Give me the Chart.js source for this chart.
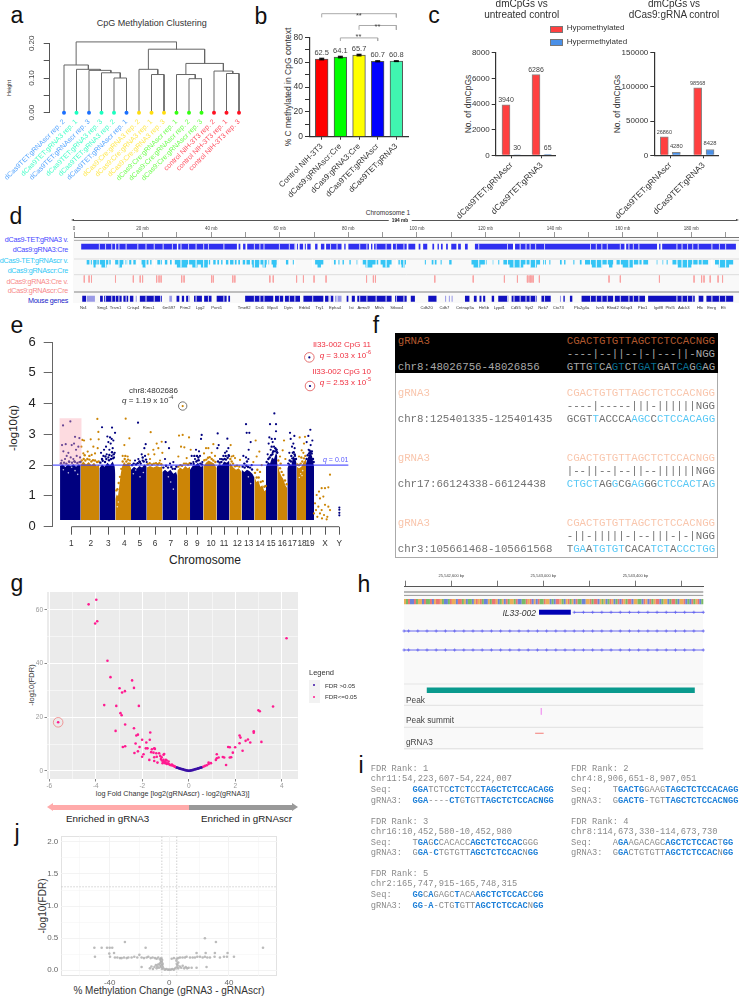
<!DOCTYPE html>
<html>
<head>
<meta charset="utf-8">
<title>CpG methylation figure</title>
<script src="https://cdn.jsdelivr.net/npm/chart.js@4/dist/chart.umd.min.js"></script>
<style>
html, body { margin: 0; padding: 0; background: #fff; }
body { position: relative; width: 739px; height: 997px; overflow: hidden; font-family: "Liberation Sans", Arial, sans-serif; }
canvas, .t, .r { position: absolute; }
.t { white-space: pre; line-height: 1; }
.m { font-family: "Liberation Mono", monospace; }
</style>
</head>
<body>
<script>
// panel a
const leafNames = ['dCas9TET:gRNAscr rep. 2', 'dCas9TET:gRNA3 rep. 1', 'dCas9TET:gRNAscr rep. 3', 'dCas9TET:gRNA3 rep. 3', 'dCas9TET:gRNA3 rep. 2', 'dCas9TET:gRNAscr rep. 1', 'dCas9:Cre:gRNA3 rep. 2', 'dCas9:Cre:gRNA3 rep. 1', 'dCas9:Cre:gRNA3 rep. 3', 'dCas9:Cre:gRNAscr rep. 1', 'dCas9:Cre:gRNAscr rep. 2', 'dCas9:Cre:gRNAscr rep. 3', 'control NIH-3T3 rep. 2', 'control NIH-3T3 rep. 1', 'control NIH-3T3 rep. 3'];
const leafDots = ['#1a6fff', '#1affc0', '#1a6fff', '#1affc0', '#1affc0', '#1a6fff', '#ffdd10', '#ffdd10', '#ffdd10', '#33ff10', '#33ff10', '#33ff10', '#ff1020', '#ff1020', '#ff1020'];
const leafInk = ['#55a5ff', '#45ffc8', '#55a5ff', '#45ffc8', '#45ffc8', '#55a5ff', '#ffe850', '#ffe850', '#ffe850', '#70ff50', '#70ff50', '#70ff50', '#ff5060', '#ff5060', '#ff5060'];
// each merge: left x, right x, height, left child height, right child height
const merges = [
  [4, 5, 0.100, 0, 0], [3, 4.5, 0.115, 0, 0.100], [2, 3.75, 0.122, 0, 0.115], [1, 2.9, 0.125, 0, 0.122], [0, 1.95, 0.1375, 0, 0.125],
  [7, 8, 0.110, 0, 0], [6, 7.5, 0.125, 0, 0.110], [10, 11, 0.098, 0, 0], [9, 10.5, 0.110, 0, 0.098],
  [13, 14, 0.113, 0, 0], [12, 13.5, 0.120, 0, 0.113], [9.75, 12.75, 0.142, 0.110, 0.120], [6.75, 11.25, 0.183, 0.125, 0.142], [0.97, 9, 0.204, 0.1375, 0.183]
];

// panel b
const methNames = ['Control NIH-3T3', 'dCas9:gRNAscr:Cre', 'dCas9:gRNA3:Cre', 'dCas9TET:gRNAscr', 'dCas9TET:gRNA3'];
const methValues = [62.5, 64.1, 65.7, 60.7, 60.8];
const methErrors = [0.6, 0.6, 0.6, 0.4, 0.3];
const methColors = ['#ff0000', '#00ff00', '#ffff00', '#0000ff', '#40f5b0'];
const methBrackets = [[0, 4, 96, 99], [2, 4, 86, 89.5], [1, 3, 77, 79.5]];

// panel c
const dmNames = ['dCas9TET:gRNAscr', 'dCas9TET:gRNA3'];
const hypoUntreated = [3940, 6286];
const hyperUntreated = [30, 65];
const hypoControl = [26860, 98568];
const hyperControl = [4280, 8428];

// panel d, intervals in Mb on chromosome 1
const chrTicks = [0, 10, 20, 30, 40, 50, 60, 70, 80, 90, 100, 110, 120, 130, 140, 150, 160, 170, 180, 190];
const dmrTet3 = [[2.1, 12], [12.3, 30], [30.4, 47.5], [48, 48.5], [49.3, 50], [50.5, 64.5], [65, 65.3], [65.8, 66.8], [67.3, 67.6], [68, 69], [70.3, 71], [72, 73], [73.5, 78], [78.8, 79.2], [80, 86], [86.6, 87], [87.5, 92.5], [93, 97], [97.5, 99.5], [100.5, 101], [101.8, 103], [104.5, 105], [106, 106.4], [107, 107.5], [108.5, 109], [110, 111.5], [112, 112.8], [114, 114.8], [116.9, 128], [128.6, 160.5], [161, 170], [170.6, 171], [171.5, 193]];
const dmrTetScr = [[3.7, 4.5], [4.9, 5.2], [5.6, 6.6], [6.8, 10], [10.3, 10.7], [12, 14.4], [14.9, 15.5], [16.1, 16.7], [17.3, 18], [19.7, 21.7], [22.2, 22.6], [24.3, 25.1], [25.3, 25.6], [26.5, 27.2], [28, 28.5], [29.4, 39.7], [40.6, 41.3], [41.8, 42.3], [42.9, 43.3], [44.3, 45], [45.5, 46.5], [46.9, 47.4], [47.9, 48.4], [49.2, 49.9], [50.3, 51.3], [51.8, 56.2], [56.7, 56.9], [57.6, 59.1], [61, 61.2], [61.8, 62.5], [63, 63.2], [63.8, 64.1], [70.3, 72.7], [75.8, 76.3], [77.1, 77.4], [78.3, 78.7], [80.3, 80.7], [82.4, 82.6], [84.2, 88.7], [89.4, 92.6], [94.6, 95], [95.3, 96.8], [102.3, 102.6], [104.3, 104.8], [105.2, 105.7], [106.9, 107.2], [109.4, 110.1], [115.9, 119.8], [120.1, 120.3], [122.1, 122.25], [123.7, 124], [125.2, 135.9], [136.8, 137.6], [138.6, 138.9], [141.7, 142.2], [142.9, 143.3], [145.6, 145.9], [147.5, 148], [149, 157.2], [158.2, 165.5], [166, 167.4], [169.9, 170.1], [171.6, 171.8], [172.8, 173.1], [174.5, 183], [183.3, 184.9], [186.9, 192.2]];
// stretches of the same track where the marks reach the full row height
const dmrTetScrTall = [[5.7, 6.3], [8, 9.5], [13, 14], [20, 21], [30, 33], [34.5, 36], [37, 39], [52, 54], [55, 56], [58, 59], [71, 72], [85, 87], [90, 92], [95.5, 96.5], [116.5, 118.5], [127, 131], [133, 135], [151, 154], [156, 157], [160, 163], [176, 180], [188, 191]];
const trackSlits = [7.4, 9.2, 11, 13.1, 15.2, 18.6, 21, 23.4, 26, 28.7, 31.2, 33.4, 35.6, 37.8, 39.2, 43.7, 52.6, 54.2, 55.4, 59.9, 62.8, 64.4, 69.6, 74.8, 76.7, 83.3, 85.4, 88.1, 91, 94, 96.2, 118, 126.4, 128.3, 130.1, 131.8, 133, 134.6, 137.2, 150.6, 152.3, 153.9, 155.5, 159.3, 161.8, 163.1, 164.7, 175.8, 177.3, 178.9, 180.4, 182, 186, 188.2, 190];
const dmrCre = [3, 4.4, 5.1, 12.1, 17.3, 19.3, 20, 24.1, 24.8, 25.4, 31.4, 32.1, 40.1, 40.6, 46.3, 46.9, 57.1, 58.1, 64.9, 66.9, 70, 73.5, 85.3, 87.3, 87.9, 105.2, 116.4, 125.5, 129.3, 132.2, 132.7, 133.1, 133.5, 133.9, 135.7, 156, 159.3, 170.7, 180.8, 183, 183.7, 185.5, 187.8, 189.1];
const genesDense = [[2.4, 3.5], [7.6, 8.4], [8.8, 12], [12.2, 13.9], [14.4, 15.8], [16.3, 17.3], [19.2, 25.1], [25.3, 25.6], [29.9, 30.7], [31.4, 32.1], [32.7, 33.6], [35, 37.3], [37.9, 40.1], [41.6, 44.5], [45, 45.5], [49.9, 58.1], [58.6, 61], [61.5, 65.9], [66.9, 72.7], [73.2, 74.2], [74.6, 75.6], [79.5, 80], [81, 81.9], [82.6, 92.6], [93.6, 97], [98.2, 99.4], [103.3, 105.7], [114, 115.3], [116.6, 117.4], [118.2, 118.8], [119.3, 119.9], [121.8, 122.5], [123.7, 126.6], [127.6, 134.9], [136.3, 139], [142.7, 143.1], [144.6, 145.3], [148, 157.2], [157.7, 166.5], [167.4, 181], [182, 183.5], [184.4, 192.2]];
const genesSparse = [[3.7, 6.1], [18, 18.3], [27.8, 28.7], [46.5, 46.6], [76.1, 78], [106.5, 106.7], [108.2, 108.5], [109.3, 109.6], [110.1, 110.4], [141.7, 142]];
const geneNames = ['Nr4', 'Smg1', 'Trsm1', 'Crisp4', 'Rims1', '6m597', 'Prim2', 'Lyg2', 'Pxnt1', 'Tmeff2', 'Dst1', 'Mpo4', 'Dytn', 'Erbb4', 'Try1', 'Epha4', 'Ist', 'Arms9', 'Mfsh', 'Stbox4', 'Cdh20', 'Cdh7', 'Cntnap5a', 'Htr5b', 'Lypd1', 'Cd55', 'Syt2', 'Nek7', 'Ctx73', 'Pla2g4a', 'Ivn5', 'Rfwd2', 'Kifap3', 'Pbx1', 'Igdf8', 'Pfxl5', 'Adck3', 'Hlx', 'Enrg', 'Elt'];
const genePositions = [2.7, 8.3, 12.1, 17.3, 21.8, 27.7, 32.4, 36.8, 41.6, 49.6, 54.2, 57.9, 62.5, 67.2, 71.6, 76.1, 80.9, 84.4, 89, 94.1, 102.8, 108, 114, 119.5, 124, 128.8, 132.7, 136.8, 141.2, 148, 153.4, 157.1, 161.1, 165.8, 170.4, 173.8, 177.8, 182.5, 185.9, 189.3];

// panel e, x is cumulative genome position, y is -log10(q)
const chromNames = ['1', '2', '3', '4', '5', '6', '7', '8', '9', '10', '11', '12', '13', '14', '15', '16', '17', '18', '19', 'X', 'Y'];
const chromTicks = [214, 272, 325, 373, 419, 465, 512, 558, 592, 633, 672, 712, 746, 780, 813, 847, 877, 906, 930, 975, 1018];
const chromBodies = [
  [[180, 1.97], [188, 2.02], [196, 1.94], [204, 2.03], [212, 1.96], [220, 2.04], [228, 1.95], [236, 2.03], [242, 1.98]],
  [[242, 2.02], [250, 2.12], [258, 2.02], [266, 2.1], [274, 2.0], [282, 2.08], [290, 1.96], [298, 2.02]],
  [[298, 1.9], [306, 2.02], [314, 1.95], [322, 2.08], [330, 2.0], [338, 2.12], [344, 1.95], [346, 1.7]],
  [[346, 0.9], [350, 1.05], [354, 1.0], [358, 1.35], [362, 1.7], [366, 1.95], [372, 2.1], [378, 2.02], [385, 2.1], [393, 1.9]],
  [[393, 1.85], [402, 1.95], [410, 1.88], [418, 1.97], [426, 1.92], [434, 2.03], [440, 1.95]],
  [[440, 1.92], [450, 1.97], [460, 1.92], [470, 1.97], [480, 1.93], [487, 1.97]],
  [[487, 1.78], [495, 1.85], [503, 1.78], [511, 1.85], [520, 1.72], [528, 1.78], [532, 1.65]],
  [[532, 1.82], [540, 1.92], [548, 1.87], [556, 1.97], [563, 1.9], [570, 1.95]],
  [[570, 1.85], [578, 1.98], [586, 2.0], [594, 2.08], [602, 1.95], [610, 1.98]],
  [[610, 1.95], [618, 2.08], [626, 2.15], [634, 2.1], [642, 2.05], [650, 1.9]],
  [[650, 1.95], [658, 2.03], [666, 2.0], [672, 2.12], [680, 2.08], [688, 2.15]],
  [[688, 2.1], [694, 2.02], [700, 1.92], [708, 1.85], [716, 1.9], [725, 1.78]],
  [[725, 1.85], [733, 1.78], [741, 1.85], [749, 1.8], [757, 1.72], [763, 1.6]],
  [[763, 1.65], [769, 1.45], [775, 1.5], [781, 1.3], [787, 1.35], [793, 1.15], [798, 1.2]],
  [[798, 1.95], [804, 2.1], [810, 2.05], [816, 2.25], [822, 2.2], [828, 2.4], [832, 2.3]],
  [[832, 2.1], [838, 1.8], [844, 1.65], [850, 1.55], [856, 1.35], [862, 1.25]],
  [[862, 1.9], [868, 2.05], [874, 2.0], [880, 2.3], [886, 2.2], [890, 2.05]],
  [[890, 1.95], [897, 1.9], [904, 1.95], [911, 2.1], [918, 2.2]],
  [[918, 2.05], [924, 2.25], [930, 2.4], [936, 2.3], [942, 1.95]]
];
const navyHits = [[189, 3.29], [211, 3.42], [225, 2.92], [238, 2.88], [186, 2.65], [197, 2.68], [215, 2.65], [222, 2.7], [235, 2.6], [228, 2.5], [190, 2.45], [205, 2.4], [200, 2.3], [195, 2.2], [212, 2.25], [220, 2.2], [230, 2.3], [240, 2.25], [185, 2.15], [208, 2.1], [225, 2.1], [238, 2.1],
  [306, 3.23], [336, 3.22], [345, 3.05], [322, 2.93], [330, 2.9], [335, 2.85], [340, 2.8], [303, 2.4], [312, 2.5], [318, 2.6], [325, 2.75], [332, 2.7], [338, 2.55], [328, 2.5], [344, 2.4], [320, 2.35], [310, 2.3], [335, 2.3], [342, 2.25], [325, 2.25],
  [414, 3.38], [437, 2.68], [433, 2.55], [425, 2.35], [435, 2.3], [415, 2.2], [405, 2.15], [428, 2.15], [440, 2.1], [420, 2.1],
  [497, 2.75], [507, 2.55], [495, 2.2], [520, 2.1], [510, 2.05],
  [605, 2.98], [603, 2.85], [588, 2.5], [597, 2.45], [575, 2.3], [585, 2.2], [600, 2.3], [592, 2.15], [607, 2.1], [580, 2.1],
  [653, 3.03], [682, 2.86], [656, 2.65], [652, 2.55], [685, 2.55], [675, 2.4], [670, 2.3], [680, 2.45], [660, 2.2], [665, 2.2], [687, 2.3],
  [738, 3.33], [740, 3.05], [748, 3.05], [752, 2.75], [746, 2.5], [738, 2.25], [730, 2.3], [745, 2.2], [755, 2.0],
  [823, 3.68], [810, 3.33], [828, 3.33], [808, 2.9], [828, 3.1], [815, 2.85], [825, 2.85], [806, 2.7], [818, 2.75], [822, 2.6], [830, 2.5], [812, 2.5], [825, 2.45], [818, 2.4], [803, 2.35], [832, 2.4],
  [870, 3.05], [883, 2.95], [872, 2.85], [880, 2.7], [876, 2.6], [884, 2.55], [868, 2.4], [878, 2.4], [885, 2.3],
  [931, 3.15], [925, 2.95], [937, 2.8], [920, 2.75], [932, 2.65], [926, 2.5], [936, 2.45], [930, 2.4],
  [1018, 0.62], [1018, 0.55], [1018, 0.45], [1018, 0.37], [928, 5.5], [930, 4.57]];
// the thin fringe of calls sitting right above the solid columns
const navyFringe = [[183, 2.06], [192, 2.08], [199, 2.05], [207, 2.12], [216, 2.08], [223, 2.13], [232, 2.07], [241, 2.1],
  [301, 2.08], [308, 2.14], [315, 2.1], [319, 2.2], [327, 2.16], [333, 2.2], [339, 2.22], [341, 2.35], [336, 2.42], [328, 2.33], [316, 2.28], [306, 2.2],
  [396, 2.0], [401, 2.05], [408, 2.02], [413, 2.06], [422, 2.05], [431, 2.12], [438, 2.18], [428, 2.25], [418, 2.12],
  [490, 1.92], [498, 1.98], [504, 1.92], [514, 1.94], [518, 1.88], [525, 1.88], [529, 1.95],
  [573, 2.05], [581, 2.04], [589, 2.12], [596, 2.16], [601, 2.05], [606, 2.02], [591, 2.3], [583, 2.3], [595, 2.25],
  [654, 2.12], [659, 2.08], [664, 2.1], [669, 2.18], [674, 2.2], [678, 2.18], [683, 2.24], [686, 2.32], [677, 2.3],
  [728, 1.95], [734, 1.92], [739, 1.98], [744, 1.94], [750, 1.92], [756, 1.86], [733, 2.05], [741, 2.12],
  [800, 2.1], [805, 2.2], [809, 2.25], [813, 2.32], [817, 2.35], [820, 2.45], [826, 2.55], [829, 2.5], [831, 2.42], [815, 2.6],
  [865, 2.05], [869, 2.15], [873, 2.12], [877, 2.22], [881, 2.42], [884, 2.35], [888, 2.2], [874, 2.3],
  [920, 2.2], [923, 2.32], [927, 2.38], [929, 2.47], [933, 2.44], [935, 2.38], [939, 2.2], [941, 2.1]];
const orangeHits = [[292, 3.5], [295, 3.08], [247, 2.82], [252, 2.8], [272, 2.84], [296, 2.84], [244, 2.6], [280, 2.6], [293, 2.55], [263, 2.44], [250, 2.38], [285, 2.38], [275, 2.33],
  [377, 3.51], [388, 2.87], [373, 2.65], [383, 2.28], [368, 2.3], [390, 2.15],
  [452, 3.07], [445, 2.35], [470, 2.7], [485, 2.76], [475, 2.55], [460, 2.5], [463, 2.35], [487, 2.4], [450, 2.2], [480, 2.15],
  [537, 2.96], [548, 2.98], [567, 2.9], [543, 2.6], [553, 2.58], [572, 2.5], [535, 2.28], [560, 2.23], [548, 3.92],
  [640, 2.68], [618, 2.55], [625, 2.55], [612, 2.38], [635, 2.4], [645, 2.3],
  [692, 2.65], [695, 2.28], [705, 2.23], [720, 2.17], [700, 2.3],
  [767, 2.8], [778, 2.44], [770, 2.28], [760, 2.1], [785, 2.0],
  [852, 2.8], [848, 2.48], [840, 2.28], [856, 2.2],
  [899, 2.9], [915, 2.92], [912, 2.7], [905, 2.48], [897, 2.28], [910, 2.4],
  [990, 1.69], [965, 1.25], [975, 1.25], [985, 1.28], [957, 1.14], [950, 1.03], [960, 0.92], [970, 0.98], [945, 0.76], [955, 0.65], [965, 0.54], [975, 0.71], [985, 0.65], [948, 0.54], [960, 0.43], [972, 0.38], [982, 0.32], [990, 0.54], [952, 0.32], [966, 0.27], [980, 0.24], [942, 0.43]];
const orangeFringe = [[245, 2.15], [251, 2.2], [256, 2.15], [262, 2.2], [268, 2.18], [274, 2.12], [279, 2.16], [285, 2.15], [291, 2.1], [296, 2.12], [254, 2.32], [268, 2.3],
  [352, 1.22], [356, 1.42], [349, 1.18], [360, 1.62], [364, 1.88], [368, 2.12], [374, 2.2], [379, 2.12], [384, 2.18], [389, 2.05], [376, 2.3],
  [443, 2.03], [449, 2.06], [456, 2.02], [462, 2.05], [468, 2.06], [473, 2.03], [478, 2.06], [484, 2.03],
  [535, 1.95], [541, 2.0], [546, 1.98], [552, 2.05], [558, 2.05], [564, 2.02], [569, 2.06],
  [613, 2.16], [619, 2.18], [624, 2.24], [629, 2.26], [635, 2.2], [640, 2.15], [646, 2.1],
  [691, 2.2], [695, 2.12], [699, 2.05], [705, 1.96], [711, 1.98], [718, 1.95],
  [765, 1.75], [770, 1.6], [776, 1.6], [782, 1.45], [788, 1.48], [793, 1.3], [797, 1.32], [772, 1.85], [780, 1.78],
  [835, 2.15], [840, 1.9], [845, 1.78], [850, 1.68], [855, 1.5], [860, 1.38], [842, 2.05],
  [892, 2.02], [897, 2.0], [902, 2.05], [907, 2.12], [912, 2.22], [916, 2.3], [904, 2.25]];
// pale specks where the columns are not solid
const bodySpecks = [[190, 1.85], [205, 1.75], [225, 1.82], [215, 1.93], [233, 1.7], [400, 1.72], [420, 1.62], [430, 1.76], [407, 1.84], [520, 1.22], [505, 1.62], [512, 1.45], [745, 1.62], [752, 1.4], [902, 1.72], [898, 1.6], [908, 1.82], [906, 1.66], [355, 0.8], [352, 0.65]];
const circledOrange = [[548, 3.92]];
const circledRed = [[928, 5.5], [930, 4.57]];

// panel g
const fdrPassed = [[-4.31, 62], [-3.98, 63.7], [-3.94, 55.7], [-4.03, 54.9], [-3.5, 41], [-3.37, 34.9], [-2.44, 33.7], [-2.98, 30.8], [-2.36, 30.9], [-2.87, 29.2], [-2.75, 29.7], [-3.64, 24.5], [-3.12, 24.2], [-2.15, 24.2], [-2.94, 21.5], [-2.89, 20.7], [-2.74, 17.3], [-3.15, 14.9], [-2.36, 15.9], [-1.66, 14.3], [-2.19, 13.5], [-2.26, 13.2], [-2.29, 10.2], [-2.12, 8.9], [-1.68, 11.6], [-1.83, 10.6], [-2.01, 11.6], [-2.84, 8.9], [-2.74, 9.2], [-2.34, 6.7], [-2.19, 7.3], [-1.95, 6.2], [-2.01, 5.3], [-1.85, 8.4], [-1.78, 8.4], [-1.59, 8.1], [-1.49, 8.4], [-1.46, 8.2], [-1.62, 7], [-1.52, 6.8], [-1.4, 6.6], [-1.28, 6.6], [-1.7, 4.1], [-1.49, 5.1], [-1.38, 5.3], [-1.23, 5.6], [-1.17, 5.1], [-1.09, 6], [-1.06, 6.3], [-1.49, 3.7], [-1.35, 3.1], [-1.16, 3.9], [-1.09, 4.1], [-1.05, 3.5], [-0.99, 4.1], [-0.95, 3.9], [-0.87, 3.5], [-1.13, 2.9], [-1.02, 2.9], [-0.95, 2.6], [-0.8, 2.2], [-0.73, 2.4], [-0.66, 1.9], [-0.6, 1.6],
  [-1.2, 4.4], [-1.1, 3.4], [-1, 3.1], [-0.9, 2.8], [-0.85, 2.5], [-0.75, 2.1], [-0.7, 2], [-0.62, 1.7],
  [4.2, 49.4], [2.99, 22.6], [3.05, 22.2], [3.62, 24], [2.79, 14.8], [2.79, 14.2], [2.18, 13.2], [2.22, 12.4], [2.54, 11.7], [2.44, 11.2], [2.64, 10.6], [3.12, 10.8], [1.76, 8.8], [1.69, 8.9], [1.99, 8.8], [1.89, 6.8], [2.31, 7.5], [2.18, 10.3], [1.2, 6.2], [1.46, 5.2], [1.52, 5], [1.2, 4.7], [1.28, 5], [1.16, 4.1], [1.82, 5.1], [1.76, 5], [1.6, 2.2], [0.95, 2.9], [0.85, 2.6], [0.77, 2.1], [0.7, 1.9], [0.63, 1.6], [0.85, 3.1], [-5.62, 18.1]];
const fdrFailed = [[-0.55, 1.35], [-0.5, 1.2], [-0.45, 1.05], [-0.4, 0.9], [-0.35, 0.8], [-0.3, 0.65], [-0.25, 0.55], [-0.2, 0.4], [-0.15, 0.3], [-0.1, 0.2], [-0.05, 0.1], [0, 0.05], [0.05, 0.1], [0.1, 0.2], [0.15, 0.3], [0.2, 0.4], [0.25, 0.55], [0.3, 0.65], [0.35, 0.8], [0.4, 0.9], [0.45, 1.05], [0.5, 1.2], [0.55, 1.3]];
const fdrCircled = [[-5.62, 18.1]];

// panel h, x is bp from the left edge of the window
const rulerTicks = [6, 206, 406, 606, 806, 1006, 1206];
const rulerNames = { 206: '25,542,600 bp', 606: '25,543,000 bp', 1006: '25,543,400 bp' };
const refBases = 'GATCCTAGGCTAATCGTTGACCATGGCTTAGCAACGTGTACCGATTGCAGCTAGGATCCAATGTCGCTAATGGCACTTGACGTAGCTAACCGGTATTCGAGCATGCATCTGATTCGGAACTGCTAGTTCAGGCATTACGGTCACTAGTCA';
const transcriptMarks = [0, 20, 60, 100, 140, 180, 220, 260, 300, 340, 380, 420, 460, 500, 540, 580, 620, 660, 700, 740, 780, 820, 860, 900, 940, 980, 1020, 1060, 1100, 1140, 1180, 1220, 1260, 1301];
const exonBlock = [[587, 725]];
const peakInterval = [[99, 1264]];
const summitPos = [597];
const guideInterval = [[570, 607]];

// panel j
const methChange = [[-50.3, 0.35], [-49.9, 0.21], [-45.4, 0.35], [-41.8, 0.35], [-40, 0.35], [-38.3, 0.35], [-40.3, 0.26], [-39.8, 0.21], [-37.1, 0.27], [-29.8, 0.44], [-15.9, 0.35], [23.9, 0.5], [31.3, 0.44], [62.9, 0.35], [24.4, 0.27], [30.6, 0.27], [18.3, 0.27], [39.1, 0.27], [43.4, 0.21], [38.7, 0.21], [36.7, 0.21], [34, 0.2], [30.4, 0.21], [-18.6, 0.05], [25, 0.05], [18.3, 0.04], [15, 0.04],
  [-36.5, 0.2], [-34.9, 0.2], [-33.1, 0.19], [-32, 0.19], [-30.4, 0.2], [-28.6, 0.19], [-27.5, 0.2], [-25.3, 0.2], [-23.5, 0.21], [-21.5, 0.2], [-20.1, 0.24], [-18.6, 0.2], [-17, 0.19], [-15.2, 0.2], [-14.1, 0.21], [-12.5, 0.19], [-11.2, 0.2], [-9.6, 0.19], [-8.5, 0.18], [-7.4, 0.2], [-6.3, 0.17], [-5.4, 0.19],
  [1.6, 0.18], [3.1, 0.19], [4.9, 0.18], [6, 0.19], [7.2, 0.2], [8.9, 0.2], [10.5, 0.2], [11.6, 0.21], [13.9, 0.2], [15.7, 0.2], [17.2, 0.2], [18.8, 0.21], [20.6, 0.21], [22.4, 0.2], [23.9, 0.21], [25.5, 0.2], [27.3, 0.2],
  [-13, 0.03], [-12, 0.06], [-11, 0.02], [-10, 0.05], [-9, 0.08], [-8.5, 0.03], [-8, 0.06], [-7.5, 0.09], [-7, 0.04], [-6.5, 0.1], [-6, 0.07], [-5.8, 0.12], [-5.5, 0.15], [-5.2, 0.17], [-5, 0.12], [-4.8, 0.09], [-4.5, 0.06], [-4, 0.03], [-5.5, 0.05], [-5, 0.02], [-4.5, 0.1], [-5.2, 0.14], [-4.8, 0.16], [-5, 0.07], [-3, 0.01], [-2, 0.02], [-1, 0.01], [0, 0.01], [1, 0.01], [2, 0.02], [3, 0.01], [4, 0.03], [5, 0.05], [6, 0.03], [7, 0.06], [8, 0.04], [9, 0.07], [10, 0.03], [11, 0.05], [12, 0.03], [13, 0.04], [5, 0.1], [5.5, 0.08], [6, 0.12], [4.8, 0.15]];

Chart.defaults.font.family = '"Liberation Sans", Arial, sans-serif';
Chart.defaults.animation = false;
Chart.defaults.responsive = false;
Chart.defaults.plugins.legend.display = false;
Chart.defaults.plugins.tooltip.enabled = false;

const pts = a => a.map(([x, y]) => ({ x, y }));
const atTicks = list => s => { s.ticks = list.map(v => ({ value: v })); };
const axisGrid = (len, color, width) => ({ drawOnChartArea: false, tickLength: len, tickColor: color, tickWidth: width || 1, color });
// intervals as flat runs with a gap between them, y is the row of the track
const runs = (list, y) => list.flatMap(([a, b]) => [{ x: a, y }, { x: b, y }, { x: b, y: null }]);
const marks = (list, y0, y1) => list.flatMap(x => [{ x, y: y0 }, { x, y: y1 }, { x, y: null }]);
const band = (data, color, width) => ({ type: 'line', data, borderColor: color, borderWidth: width, pointRadius: 0, borderCapStyle: 'butt', clip: false, tension: 0 });
const dots = (data, color, r) => ({ type: 'scatter', data, backgroundColor: color, borderWidth: 0, pointRadius: r, clip: false });

const valueLabels = {
  id: 'valueLabels',
  afterDatasetsDraw(chart) {
    const ctx = chart.ctx;
    chart.data.datasets.forEach((ds, i) => {
      if (!ds.labelSize) return;
      chart.getDatasetMeta(i).data.forEach((el, j) => {
        ctx.save();
        ctx.font = ds.labelSize + 'px "Liberation Sans", Arial, sans-serif';
        ctx.fillStyle = '#444';
        ctx.textAlign = 'center';
        ctx.fillText(String(ds.data[j].y), el.x, el.y - ds.labelGap);
        ctx.restore();
      });
    });
  }
};

// box and area are page pixels, every axis is forced to fill the gap between them
function plot(box, area, config) {
  const cv = document.createElement('canvas');
  cv.width = box.w; cv.height = box.h;
  cv.style.left = box.x + 'px'; cv.style.top = box.y + 'px';
  document.body.appendChild(cv);
  const o = config.options, sides = {};
  Object.keys(o.scales).forEach(k => {
    const s = o.scales[k];
    if (s.display === false) return;
    const pos = s.position || (k[0] === 'x' ? 'bottom' : 'left');
    sides[pos] = true;
    s.afterFit = sc => {
      if (pos === 'left') sc.width = area.l - box.x;
      if (pos === 'top') sc.height = area.t - box.y;
      if (pos === 'bottom') sc.height = box.y + box.h - area.b;
      sc.paddingLeft = sc.paddingRight = sc.paddingTop = sc.paddingBottom = 0;
    };
  });
  o.layout = { padding: {
    left: sides.left ? 0 : area.l - box.x,
    top: sides.top ? 0 : area.t - box.y,
    right: box.x + box.w - area.r,
    bottom: sides.bottom ? 0 : box.y + box.h - area.b
  } };
  return new Chart(cv, config);
}

function text(x, y, str, css, anchor) {
  const d = document.createElement('div');
  d.className = 't';
  const tx = anchor === 'r' ? '-100%' : anchor === 'c' ? '-50%' : '0';
  d.style.cssText = `left:${x}px;top:${y}px;transform:translate(${tx},-50%);${css || ''}`;
  d.innerHTML = str;
  document.body.appendChild(d);
  return d;
}
function vtext(x, y, str, css) {
  const d = text(x, y, str, css, 'c');
  d.style.transform = 'translate(-50%,-50%) rotate(-90deg)';
}
function rect(x, y, w, h, css) {
  const d = document.createElement('div');
  d.className = 'r';
  d.style.cssText = `left:${x}px;top:${y}px;width:${w}px;height:${h}px;${css}`;
  document.body.appendChild(d);
}
function head(x, y, dir, len, half, color) {
  const side = dir > 0 ? 'left' : 'right';
  rect(dir > 0 ? x : x - len, y - half, 0, 0, `border-top:${half}px solid transparent;border-bottom:${half}px solid transparent;border-${side}:${len}px solid ${color};`);
}
const panelTag = (x, y, s) => text(x, y, s, 'font-size:23px;color:#111;', 'c');

[['a', 17, 14.5], ['b', 261, 15.5], ['c', 434, 14.5], ['d', 16, 216], ['e', 17, 325], ['f', 376, 325], ['g', 17, 583], ['h', 364, 584], ['i', 361, 765], ['j', 17, 833]].forEach(p => panelTag(p[1], p[2], p[0]));

/* ---------- a ---------- */
text(151.7, 23, 'CpG Methylation Clustering', 'font-size:9px;color:#333;', 'c');
vtext(10, 88, 'Height', 'font-size:5.5px;color:#333;');
plot({ x: 0, y: 20, w: 258, h: 185 }, { l: 49.3, t: 43.3, r: 250, b: 112.7 }, {
  type: 'scatter',
  data: { datasets: [
    dots(leafNames.map((n, i) => ({ x: i, y: 0 })), leafDots, 2),
    band(merges.flatMap(([a, b, h, ha, hb]) => [{ x: a, y: ha }, { x: a, y: h }, { x: b, y: h }, { x: b, y: hb }, { x: b, y: null }]), '#666', 1)
  ] },
  options: { scales: {
    x: { type: 'linear', min: -1.176, max: 14.88, afterBuildTicks: atTicks(leafNames.map((n, i) => i)), border: { display: false },
      grid: { drawOnChartArea: false, drawTicks: false },
      ticks: { autoSkip: false, minRotation: 45, maxRotation: 45, padding: 5, font: { size: 7 }, color: c => leafInk[c.index], callback: v => leafNames[v] } },
    y: { min: 0, max: 0.2, afterBuildTicks: atTicks([0, 0.05, 0.1, 0.15, 0.2]), border: { color: '#555' }, grid: axisGrid(5.6, '#555'),
      ticks: { autoSkip: false, minRotation: 90, maxRotation: 90, crossAlign: 'center', padding: 4, font: { size: 8 }, color: '#444', callback: v => (Math.round(v * 100) % 10 === 0 ? v.toFixed(2) : '') } }
  } }
});

/* ---------- b ---------- */
const inkAxis = { color: '#333', width: 1.2 };
vtext(288, 87, '% C methylated in CpG context', 'font-size:8.5px;color:#333;');
plot({ x: 262, y: 0, w: 160, h: 206 }, { l: 309.3, t: 37.3, r: 408.3, b: 136.7 }, {
  type: 'bar',
  data: { datasets: [
    { type: 'line', data: methValues.flatMap((v, i) => [{ x: i, y: v - methErrors[i] }, { x: i, y: v + methErrors[i] }, { x: i, y: null }]), borderColor: '#000', borderWidth: 1, pointStyle: 'line', pointRadius: 2.5, pointBorderColor: '#000', pointBorderWidth: 1.2, clip: false },
    { type: 'line', data: methBrackets.flatMap(([a, b, low, high]) => [{ x: a, y: low }, { x: a, y: high }, { x: b, y: high }, { x: b, y: low }, { x: b, y: null }]), borderColor: '#aaa', borderWidth: 1, pointRadius: 0, clip: false },
    { data: methValues.map((v, i) => ({ x: i, y: v })), backgroundColor: methColors, borderColor: '#555', borderWidth: 1, barThickness: 12.7, grouped: false, labelSize: 7.5, labelGap: 4.5 }
  ] },
  plugins: [valueLabels],
  options: { scales: {
    x: { type: 'linear', offset: false, min: -0.665, max: 4.64, afterBuildTicks: atTicks(methNames.map((n, i) => i)), border: inkAxis,
      grid: { offset: false, drawOnChartArea: false, tickLength: 3, tickColor: '#333' },
      ticks: { autoSkip: false, minRotation: 45, maxRotation: 45, padding: 2, font: { size: 8 }, color: '#333', callback: v => methNames[v] } },
    y: { min: 0, max: 80, afterBuildTicks: atTicks([0, 10, 20, 30, 40, 50, 60, 70, 80]), border: inkAxis, grid: axisGrid(4.3, '#333', 1),
      ticks: { autoSkip: false, padding: 2, font: { size: 8.5 }, color: '#333', callback: v => (v % 20 === 0 ? v : '') } }
  } }
});
text(358.8, 16, '**', 'font-size:7.5px;color:#444;', 'c');
text(377.5, 27, '**', 'font-size:7.5px;color:#444;', 'c');
text(358.5, 37, '**', 'font-size:7.5px;color:#444;', 'c');

/* ---------- c ---------- */
function dmChart(box, area, xr, hypoX, hyperX, hypo, hyper, yMax, yTicks, sizes, tickX) {
  plot(box, area, {
    type: 'bar',
    data: { datasets: [
      { data: hypo.map((v, i) => ({ x: hypoX[i], y: v })), backgroundColor: '#ff4040', borderColor: '#888', borderWidth: 1, barThickness: 8, grouped: false, labelSize: sizes[0], labelGap: 3 },
      { data: hyper.map((v, i) => ({ x: hyperX[i], y: v })), backgroundColor: '#4a90e8', borderColor: '#888', borderWidth: 1, barThickness: 8, grouped: false, labelSize: sizes[1], labelGap: 4.5 }
    ] },
    plugins: [valueLabels],
    options: { scales: {
      x: { type: 'linear', offset: false, min: xr[0], max: xr[1], afterBuildTicks: atTicks(tickX), border: inkAxis,
        grid: { offset: false, drawOnChartArea: false, tickLength: 3, tickColor: '#333' },
        ticks: { autoSkip: false, minRotation: 45, maxRotation: 45, padding: 2, font: { size: 8.5 }, color: '#333', callback: (v, i) => dmNames[i] } },
      y: { min: 0, max: yMax, afterBuildTicks: atTicks(yTicks), border: inkAxis, grid: axisGrid(4, '#333'),
        ticks: { autoSkip: false, padding: 2, font: { size: 8 }, color: '#333', callback: v => String(v) } }
    } }
  });
}
vtext(468, 104, 'No. of dmCpGs', 'font-size:8.5px;color:#333;');
vtext(616.7, 104, 'No. of dmCpGs', 'font-size:8.5px;color:#333;');
dmChart({ x: 425, y: 40, w: 140, h: 190 }, { l: 495.7, t: 52.7, r: 555, b: 155.3 }, [-0.343, 1.633], [0, 1], [0.37, 1.39], hypoUntreated, hyperUntreated, 8000, [0, 2000, 4000, 6000, 8000], [7, 7], [0.19, 1.19]);
dmChart({ x: 575, y: 40, w: 154, h: 190 }, { l: 654.3, t: 52.7, r: 718, b: 155.3 }, [-0.3, 1.608], [0, 1], [0.36, 1.37], hypoControl, hyperControl, 150000, [0, 50000, 100000, 150000], [5.5, 5.8], [0.18, 1.18]);
text(521.7, 4, 'dmCpGs vs', 'font-size:10px;color:#333;', 'c');
text(521.7, 15, 'untreated control', 'font-size:10px;color:#333;', 'c');
text(674, 4, 'dmCpGs vs', 'font-size:10px;color:#333;', 'c');
text(674, 15, 'dCas9:gRNA control', 'font-size:10px;color:#333;', 'c');
rect(550, 25.5, 10.5, 5, 'background:#ff4040;border:0.5px solid #777;');
rect(550, 39, 10.5, 5, 'background:#4a90e8;border:0.5px solid #777;');
text(566.7, 28, 'Hypomethylated', 'font-size:8px;color:#333;');
text(566.7, 41.5, 'Hypermethylated', 'font-size:8px;color:#333;');

/* ---------- d ---------- */
rect(73, 237, 666, 66, 'background:#f9f9f9;');
text(388, 212.5, 'Chromosome 1', 'font-size:6.5px;color:#333;', 'c');
rect(74, 220, 662, 1, 'background:#555;');
head(74, 220.5, -1, 3, 1.8, '#333');
head(736, 220.5, 1, 3, 1.8, '#333');
text(400, 220.5, '194 mb', 'font-size:4.8px;font-weight:bold;color:#222;background:#fff;padding:0 3px;', 'c');
[['dCas9-TET:gRNA3 v.', 239.5, '#4848ff'], ['dCas9:gRNA3:Cre', 249.5, '#4848ff'], ['dCas9-TET:gRNAscr v.', 261, '#30c8f5'], ['dCas9:gRNAscr:Cre', 270.5, '#30c8f5'], ['dCas9:gRNA3:Cre v.', 281.5, '#f78a8a'], ['dCas9:gRNAscr:Cre', 291, '#f78a8a'], ['Mouse genes', 301, '#1a1ac8']].forEach(l => text(68, l[1], l[0], `font-size:7.2px;letter-spacing:-0.28px;color:${l[2]};`, 'r'));
plot({ x: 60, y: 224, w: 679, h: 90 }, { l: 74, t: 237, r: 739, b: 303 }, {
  type: 'scatter',
  data: { datasets: [
    band(marks(trackSlits, 58.7, 64.7), 'rgba(255,255,255,0.55)', 0.7),
    band(runs(genesDense, 61.7), '#1010c0', 6),
    band(runs(genesSparse, 61.7), '#9a9ae6', 6),
    band(marks(dmrCre, 38.5, 45.5), '#f8a0a0', 0.9),
    band(marks(trackSlits, 22.5, 30.5), 'rgba(255,255,255,0.8)', 0.6),
    band(runs(dmrTetScrTall, 28.7), '#35c5f5', 3.6),
    band(runs(dmrTetScr, 25.2), '#35c5f5', 4.5),
    band(marks(trackSlits, 6.8, 12.6), 'rgba(255,255,255,0.7)', 0.5),
    band(runs(dmrTet3, 9.7), '#3030f0', 5.8),
    band(runs([[0, 194]], 3.4), '#999', 0.8),
    band(runs([[0, 194]], 22), '#ddd', 1),
    band(runs([[0, 194]], 37.7), '#ddd', 1),
    band(runs([[0, 194]], 55), '#aaa', 1.6)
  ] },
  options: { scales: {
    x: { type: 'linear', position: 'top', min: 0, max: 193.9, afterBuildTicks: atTicks(chrTicks), border: { color: '#777', width: 1 }, grid: axisGrid(5, '#999'),
      ticks: { autoSkip: false, maxRotation: 0, minRotation: 0, padding: 1, font: { size: 4.5 }, color: '#444', callback: v => (v % 20 === 0 ? (v === 0 ? '0' : v + ' mb') : '') } },
    x2: { type: 'linear', position: 'bottom', min: 0, max: 193.9, afterBuildTicks: atTicks(genePositions), border: { display: false },
      grid: { drawOnChartArea: false, drawTicks: false },
      ticks: { autoSkip: false, maxRotation: 0, minRotation: 0, padding: 2, font: { size: 4.2 }, color: '#333', callback: (v, i) => geneNames[i] } },
    y: { display: false, reverse: true, min: 0, max: 66 }
  } }
});

/* ---------- e ---------- */
const navy = '#00007f', amber = '#cc8506';
vtext(13.5, 428, '-log10(q)', 'font-size:11.5px;color:#222;');
text(205, 560, 'Chromosome', 'font-size:12px;color:#222;', 'c');
plot({ x: 0, y: 330, w: 400, h: 225 }, { l: 52.7, t: 342, r: 350, b: 526.7 }, {
  type: 'scatter',
  data: { datasets: [
    band(runs([[158, 1045]], 2), 'rgba(60,60,255,0.85)', 1.2),
    { type: 'scatter', data: pts(circledOrange), backgroundColor: 'transparent', borderColor: '#555', borderWidth: 0.8, pointRadius: 4.2, clip: false },
    { type: 'scatter', data: pts(circledRed), backgroundColor: 'transparent', borderColor: '#e05050', borderWidth: 0.8, pointRadius: 4.8, clip: false },
    { type: 'line', data: pts([[178, 3.52], [245, 3.52]]), borderWidth: 0, pointRadius: 0, backgroundColor: 'rgba(250,170,180,0.42)', fill: { value: 2 } },
    dots(pts(navyHits), navy, 1.1),
    dots(pts(navyFringe), navy, 1.2),
    dots(pts(orangeHits), amber, 1.1),
    dots(pts(orangeFringe), amber, 1.2),
    dots(pts(bodySpecks), 'rgba(255,255,255,0.75)', 0.8),
    band(runs([[214, 1018]], 0), '#555', 1),
    ...chromBodies.map((b, i) => ({ type: 'line', data: pts(b), borderWidth: 0, pointRadius: 0, backgroundColor: i % 2 ? amber : navy, fill: { value: 0.22 }, tension: 0 }))
  ] },
  options: { scales: {
    x: { type: 'linear', min: 158, max: 1050, afterBuildTicks: atTicks(chromTicks), border: { display: false }, grid: axisGrid(8, '#555'),
      ticks: { autoSkip: false, maxRotation: 0, minRotation: 0, padding: 4, font: { size: 8.3 }, color: '#333', callback: (v, i) => chromNames[i] } },
    y: { min: 0, max: 6, afterBuildTicks: atTicks([0, 1, 2, 3, 4, 5, 6]), border: { color: '#666' }, grid: axisGrid(9, '#666'),
      ticks: { autoSkip: false, padding: 8, font: { size: 13 }, color: '#222' } }
  } }
});
const sup = s => `<sup style="font-size:5.5px;line-height:0;">${s}</sup>`;
text(371, 345, 'Il33-002 CpG 11', 'font-size:8px;color:#f03040;', 'r');
text(371, 356, `<i>q</i> = 3.03 x 10${sup('-6')}`, 'font-size:8px;color:#f03040;', 'r');
text(371, 372, 'Il33-002 CpG 10', 'font-size:8px;color:#f03040;', 'r');
text(371, 383, `<i>q</i> = 2.53 x 10${sup('-5')}`, 'font-size:8px;color:#f03040;', 'r');
text(129, 391, 'chr8:4802686', 'font-size:8px;color:#333;');
text(122, 401, `<i>q</i> = 1.19 x 10${sup('-4')}`, 'font-size:8px;color:#333;');
text(323, 459, '<i>q</i> = 0.01', 'font-size:7px;color:#5a5aff;');

/* ---------- f ---------- */
const colorize = (s, c) => s.replace(/\[/g, `<span style="color:${c}">`).replace(/\]/g, '</span>');
rect(395, 333, 323, 225, 'border:1px solid #aaa;box-sizing:border-box;');
rect(395, 333, 323, 39.5, 'background:#000;');
const offTargets = [
  { name: 'chr8:48026756-48026856', link: '----|--||--|-|---||-NGG', seq: 'GTTG[T]CA[GT]CT[GA][T]GAT[CA]G[G]AG', ys: [341, 354, 367], guide: '#b0582e', ink: '#a8a8a8', hit: '#0a6f92' },
  { name: 'chr8:125401335-125401435', link: '----|-----|||-||||||NGG', seq: 'GCGT[T]ACCCA[AGC]C[CTCCACAGG]', ys: [393.3, 406, 419], guide: '#f9c6ad', ink: '#707070', hit: '#58c8f5' },
  { name: 'chr17:66124338-66124438', link: '|--||--|--||--||||||NGG', seq: '[CTG][CT]AG[G]CG[AG]GG[CTCCACT]A[G]', ys: [458.3, 471, 484], guide: '#f9c6ad', ink: '#707070', hit: '#58c8f5' },
  { name: 'chr3:105661468-105661568', link: '-||-|||||-|--|||-|-|NGG', seq: 'T[GA]A[TGTGT]CACA[TCT]A[CC][CTGG]', ys: [523.3, 536, 549], guide: '#f9c6ad', ink: '#707070', hit: '#58c8f5' }
];
offTargets.forEach(r => {
  const css = 'font-size:10.75px;';
  text(397.7, r.ys[0], 'gRNA3', css + `color:${r.guide};`).classList.add('m');
  text(566.7, r.ys[0], 'CGACTGTGTTAGCTCTCCACNGG', css + `color:${r.guide};`).classList.add('m');
  text(566.7, r.ys[1], r.link, css + `color:${r.ink};`).classList.add('m');
  text(397.7, r.ys[2], r.name, css + `color:${r.ink};`).classList.add('m');
  text(566.7, r.ys[2], colorize(r.seq, r.hit), css + `color:${r.ink};`).classList.add('m');
});

/* ---------- g ---------- */
rect(47, 592, 250.7, 187, 'background:#ebebeb;');
vtext(31.7, 685, '-log10(FDR)', 'font-size:7.5px;color:#333;');
text(172.7, 794, 'log Fold Change [log2(gRNAscr) - log2(gRNA3)]', 'font-size:7.2px;color:#333;', 'c');
plot({ x: 20, y: 585, w: 300, h: 206 }, { l: 47, t: 592, r: 297.7, b: 779 }, {
  type: 'scatter',
  data: { datasets: [
    { type: 'scatter', data: pts(fdrCircled), backgroundColor: 'transparent', borderColor: '#f08080', borderWidth: 0.8, pointRadius: 4.8 },
    dots(pts(fdrPassed), '#ff1a90', 1.3),
    dots(pts(fdrFailed), '#3a0fa5', 1.4)
  ] },
  options: { scales: {
    x: { type: 'linear', min: -6.1, max: 4.68, afterBuildTicks: atTicks([-6, -5, -4, -3, -2, -1, 0, 1, 2, 3, 4]), border: { display: false },
      grid: { color: '#fff', lineWidth: c => (c.tick.value % 2 === 0 ? 1 : 0.5), tickLength: 2.5, tickColor: c => (c.tick.value % 2 === 0 ? '#888' : 'transparent') },
      ticks: { autoSkip: false, maxRotation: 0, minRotation: 0, padding: 1, font: { size: 6.5 }, color: '#999', callback: v => (v % 2 === 0 ? v : '') } },
    y: { min: -3, max: 66.6, afterBuildTicks: atTicks([0, 10, 20, 30, 40, 50, 60]), border: { display: false },
      grid: { color: '#fff', lineWidth: c => (c.tick.value % 20 === 0 ? 1 : 0.5), tickLength: 2.5, tickColor: c => (c.tick.value % 20 === 0 ? '#888' : 'transparent') },
      ticks: { autoSkip: false, padding: 1.5, font: { size: 6.5 }, color: '#999', callback: v => (v % 20 === 0 ? v : '') } }
  } }
});
text(309, 673, 'Legend', 'font-size:7.5px;color:#333;');
rect(309, 680, 11, 22.7, 'background:#f2f2f2;');
rect(313, 684, 2.4, 2.4, 'background:#3a0fa5;border-radius:50%;');
rect(313, 695.6, 2.4, 2.4, 'background:#ff1a90;border-radius:50%;');
text(325, 685.5, 'FDR &gt;0.05', 'font-size:6.2px;color:#333;');
text(325, 697, 'FDR&lt;=0.05', 'font-size:6.2px;color:#333;');

// direction arrow under panel g
rect(52, 804.6, 137.3, 5.4, 'background:#ffaaaa;');
head(53, 807.3, -1, 6, 4.2, '#ffaaaa');
rect(189.3, 804.6, 103, 5.4, 'background:#999;');
head(292, 807.3, 1, 6, 4.2, '#999');
text(66, 819, 'Enriched in gRNA3', 'font-size:9.8px;color:#222;');
text(292, 819, 'Enriched in gRNAscr', 'font-size:9.8px;color:#222;', 'r');

/* ---------- h ---------- */
rect(404, 586, 299.3, 164, 'background:#f9f9f9;');
const baseInk = { A: 'rgba(100,175,75,0.85)', C: 'rgba(85,110,210,0.85)', G: 'rgba(232,160,60,0.85)', T: 'rgba(232,95,90,0.85)' };
const baseRun = 1301 / refBases.length;
const transcript = (from, y) => ({ type: 'line', data: transcriptMarks.filter(x => x >= from).map(x => ({ x, y })), borderColor: '#5a5aee', borderWidth: 0.9, pointStyle: 'cross', pointRadius: 1.6, pointBorderColor: '#5a5aee', pointBorderWidth: 0.7, clip: false });
plot({ x: 395, y: 566, w: 344, h: 200 }, { l: 404, t: 586, r: 703.3, b: 750 }, {
  type: 'scatter',
  data: { datasets: [
    band(runs(exonBlock, 26.2), '#0000b4', 5),
    transcript(725, 26.3),
    transcript(0, 45),
    transcript(0, 64),
    band(runs(peakInterval, 104.2), '#0a9a8e', 5.6),
    band(marks(summitPos, 122, 128.7), '#f0a0f0', 0.9),
    band(runs(guideInterval, 147.3), '#f4908c', 1.2),
    ...Object.keys(baseInk).map(b => band(runs([...refBases].flatMap((c, i) => (c === b ? [[i * baseRun, (i + 1) * baseRun]] : [])), 15.7), baseInk[b], 5.3)),
    band(runs([[0, 1301]], 6), '#777', 1.2),
    band(runs([[0, 1301]], 9.4), '#999', 1),
    band(runs([[0, 1301]], 98), '#e6e6e6', 1.2),
    band(runs([[0, 1301]], 119.3), '#e0e0e0', 1),
    band(runs([[0, 1301]], 141.3), '#e0e0e0', 1),
    band(runs([[0, 1301]], 162.7), '#e0e0e0', 1)
  ] },
  options: { scales: {
    x: { type: 'linear', position: 'top', min: 0, max: 1301, afterBuildTicks: atTicks(rulerTicks), border: { color: '#555', width: 1 }, grid: axisGrid(5.3, '#777'),
      ticks: { autoSkip: false, maxRotation: 0, minRotation: 0, padding: 2, font: { size: 4 }, color: '#444', callback: v => rulerNames[v] || '' } },
    y: { display: false, reverse: true, min: 0, max: 164 }
  } }
});
text(536, 613, 'IL33-002', 'font-size:8.5px;font-style:italic;color:#333;', 'r');
text(406, 700, 'Peak', 'font-size:8.3px;color:#444;');
text(406, 720, 'Peak summit', 'font-size:8.3px;color:#444;');
text(406, 741.7, 'gRNA3', 'font-size:8.3px;color:#444;');

/* ---------- i ---------- */
const rankEntries = [
  { x: 370.7, y: 769, head: 'FDR Rank: 1', loc: 'chr11:54,223,607-54,224,007', seq: '[GGA]TCTC[CT]C[T]CC[TAGCTCTCCACAGG]', guide: '[GGA]----[CT]G[T]GT[TAGCTCTCCACNGG]' },
  { x: 571, y: 769, head: 'FDR Rank: 2', loc: 'chr4:8,906,651-8,907,051', seq: 'T[GACTG]GAAG[TAGCTCTCCACAGG]', guide: 'G[GACTG]-TGT[TAGCTCTCCACNGG]' },
  { x: 370.7, y: 821.7, head: 'FDR Rank: 3', loc: 'chr16:10,452,580-10,452,980', seq: 'T[GA]G[C]CACACC[AGCTCTCCAC]GGG', guide: 'G[GA]-[C]TGTGTT[AGCTCTCCAC]N[GG]' },
  { x: 571, y: 821.7, head: 'FDR Rank: 4', loc: 'chr8:114,673,330-114,673,730', seq: 'A[GA]AGACAGC[AGCTCTCCAC]T[GG]', guide: 'G[GA]CTGTGTT[AGCTCTCCAC]N[GG]' },
  { x: 370.7, y: 874, head: 'FDR Rank: 5', loc: 'chr2:165,747,915-165,748,315', seq: '[GG]C[A]GAGC[T]ACA[AGCTCTCCAC]C[GG]', guide: '[GG]-[A]-CTG[T]GTT[AGCTCTCCAC]N[GG]' }
];
const rankInk = s => s.replace(/\[/g, '<b style="color:#1e80d8">').replace(/\]/g, '</b>');
rankEntries.forEach(r => {
  const css = 'font-size:8.73px;color:#8a8a8a;';
  text(r.x, r.y, r.head, css).classList.add('m');
  text(r.x, r.y + 10.4, r.loc, css).classList.add('m');
  text(r.x, r.y + 21.1, 'Seq:    ' + rankInk(r.seq), css).classList.add('m');
  text(r.x, r.y + 31.6, 'gRNA3:  ' + rankInk(r.guide), css).classList.add('m');
});

/* ---------- j ---------- */
rect(61.3, 835.7, 216, 140.3, 'border:1px solid #e2e2e2;box-sizing:border-box;');
vtext(42.7, 905.7, '-log10(FDR)', 'font-size:10px;color:#333;');
text(169, 991, '% Methylation Change (gRNA3 - gRNAscr)', 'font-size:10px;color:#333;', 'c');
const dotted = (data) => ({ type: 'line', data, borderColor: '#c4c4c4', borderWidth: 0.8, borderDash: [1.5, 1.5], pointRadius: 0, clip: false });
plot({ x: 20, y: 830, w: 265, h: 157 }, { l: 61.3, t: 835.7, r: 277.3, b: 976 }, {
  type: 'scatter',
  data: { datasets: [
    dotted([{ x: -72.5, y: 1.3 }, { x: 72.5, y: 1.3 }]),
    dotted([{ x: -5, y: -0.089 }, { x: -5, y: 2.096 }]),
    dotted([{ x: 5, y: -0.089 }, { x: 5, y: 2.096 }]),
    dots(pts(methChange), 'rgba(175,175,175,0.85)', 1.3)
  ] },
  options: { scales: {
    x: { type: 'linear', min: -72.5, max: 72.5, afterBuildTicks: atTicks([-60, -40, -20, 0, 20, 40, 60]), border: { display: false },
      grid: { color: '#f2f2f2', lineWidth: c => (c.tick.value % 40 === 0 ? 0.9 : 0.5), drawTicks: false },
      ticks: { autoSkip: false, maxRotation: 0, minRotation: 0, padding: 2, font: { size: 8 }, color: '#666', callback: v => (v % 40 === 0 ? v : '') } },
    y: { min: -0.089, max: 2.096, afterBuildTicks: atTicks([0, 0.25, 0.5, 0.75, 1, 1.25, 1.5, 1.75, 2]), border: { display: false },
      grid: { color: '#f2f2f2', lineWidth: c => (c.tick.value % 0.5 === 0 ? 0.9 : 0.5), drawTicks: false },
      ticks: { autoSkip: false, padding: 3, font: { size: 8 }, color: '#666', callback: v => (v % 0.5 === 0 ? v.toFixed(1) : '') } }
  } }
});
</script>
</body>
</html>
